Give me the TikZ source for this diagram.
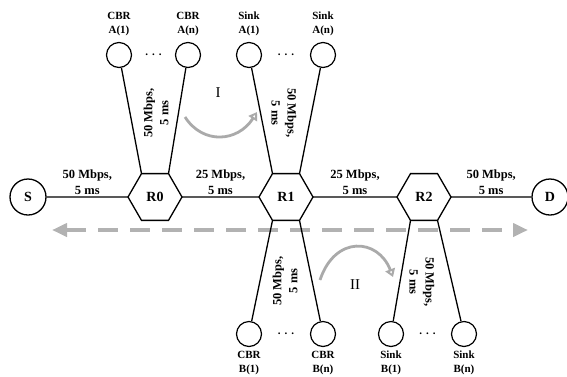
\documentclass[tikz,border=0pt]{standalone}
\usepackage{fontspec}
\setmainfont{Liberation Serif}
\usepackage{tikz}
\usetikzlibrary{arrows.meta, positioning, shapes.geometric, calc}
\definecolor{flowgrey}{RGB}{170,170,170}
\definecolor{pathgrey}{RGB}{178,178,178}
\newcommand{\bw}[1]{#1 Mbps,\\5 ms}
\newcommand{\moredots}{.\hspace{4pt}.\hspace{4pt}.}

\begin{document}
\begin{tikzpicture}[x=1pt, y=-1pt,
  host/.style={circle, draw, line width=1.3pt, minimum size=36pt, inner sep=0pt, font=\bfseries\fontsize{14}{14}\selectfont},
  leaf/.style={circle, draw, line width=1.2pt, minimum size=25pt, inner sep=0pt},
  router/.style={regular polygon, regular polygon sides=6, draw, line width=1.3pt, minimum size=54pt, inner sep=0pt, outer sep=0pt, font=\bfseries\fontsize{14}{14}\selectfont},
  lbl/.style={align=center, font=\bfseries\fontsize{12.5}{16}\selectfont, inner sep=2pt},
  tag/.style={align=center, font=\bfseries\fontsize{11}{14}\selectfont, inner sep=1pt},
  link/.style={line width=1.3pt},
  flow/.style={flowgrey, line width=2.8pt, -{Triangle[open, length=8pt, width=10pt]}}
]
  \useasboundingbox (0,0) rectangle (567,376);

  % dashed end-to-end path, behind everything
  \coordinate (westEnd) at (52,230);
  \coordinate (eastEnd) at (528,230);
  \draw[pathgrey, line width=4.5pt, dash pattern=on 20pt off 12pt,
        {Triangle[length=15pt, width=13pt]}-{Triangle[length=15pt, width=13pt]}] (westEnd) -- (eastEnd);

  % backbone
  \node[host] (S) at (28,197) {S};
  \node[router] (R0) at (155,197) {R0};
  \node[router] (R1) at (286,197) {R1};
  \node[router] (R2) at (424,197) {R2};
  \node[host] (D) at (550,197) {D};

  \draw[link] (S) -- node[lbl, above] {\bw{50}} (R0);
  \draw[link] (R0) -- node[lbl, above] {\bw{25}} (R1);
  \draw[link] (R1) -- node[lbl, above] {\bw{25}} (R2);
  \draw[link] (R2) -- node[lbl, above] {\bw{50}} (D);

  % upper leaves
  \node[leaf] (cbrA1) at (119,55) {};
  \node[leaf] (cbrAn) at (188,55) {};
  \node[leaf] (sinkA1) at (249,55) {};
  \node[leaf] (sinkAn) at (323,55) {};
  \node[tag, above=5pt of cbrA1] {CBR\\A(1)};
  \node[tag, above=5pt of cbrAn] {CBR\\A(n)};
  \node[tag, above=5pt of sinkA1] {Sink\\A(1)};
  \node[tag, above=5pt of sinkAn] {Sink\\A(n)};
  \node[tag] at ($(cbrA1)!0.5!(cbrAn)$) {\moredots};
  \node[tag] at ($(sinkA1)!0.5!(sinkAn)$) {\moredots};

  \draw[link] (cbrA1) -- (R0.120);
  \draw[link] (cbrAn) -- (R0.60);
  \draw[link] (sinkA1) -- (R1.120);
  \draw[link] (sinkAn) -- (R1.60);

  % lower leaves
  \node[leaf] (cbrB1) at (249,334) {};
  \node[leaf] (cbrBn) at (323,334) {};
  \node[leaf] (sinkB1) at (391,334) {};
  \node[leaf] (sinkBn) at (464,334) {};
  \node[tag, below=3pt of cbrB1] {CBR\\B(1)};
  \node[tag, below=3pt of cbrBn] {CBR\\B(n)};
  \node[tag, below=3pt of sinkB1] {Sink\\B(1)};
  \node[tag, below=3pt of sinkBn] {Sink\\B(n)};
  \node[tag] at ($(cbrB1)!0.5!(cbrBn)$) {\moredots};
  \node[tag] at ($(sinkB1)!0.5!(sinkBn)$) {\moredots};

  \draw[link] (cbrB1) -- (R1.-120);
  \draw[link] (cbrBn) -- (R1.-60);
  \draw[link] (sinkB1) -- (R2.-120);
  \draw[link] (sinkBn) -- (R2.-60);

  % access link labels
  \node[lbl, rotate=90] (bwA0) at (156,113) {\bw{50}};
  \node[lbl, rotate=-90] (bwA1) at (284,113) {\bw{50}};
  \node[lbl, rotate=90] (bwB1) at (285,281) {\bw{50}};
  \node[lbl, rotate=-90] (bwB2) at (422,282) {\bw{50}};

  % traffic flows
  \node[font=\fontsize{15}{15}\selectfont] (flowI) at (218,93) {I};
  \node[font=\fontsize{15}{15}\selectfont] (flowII) at (355,285) {II};
  \coordinate (flowIa) at (185,117);
  \coordinate (flowIb) at (257,112);
  \coordinate (flowIIa) at (320,280);
  \coordinate (flowIIb) at (393,277);
  \draw[flow] (flowIa) .. controls (203,145) and (238,142) .. (flowIb);
  \draw[flow] (flowIIa) .. controls (335,235) and (378,238) .. (flowIIb);
\end{tikzpicture}
\end{document}
